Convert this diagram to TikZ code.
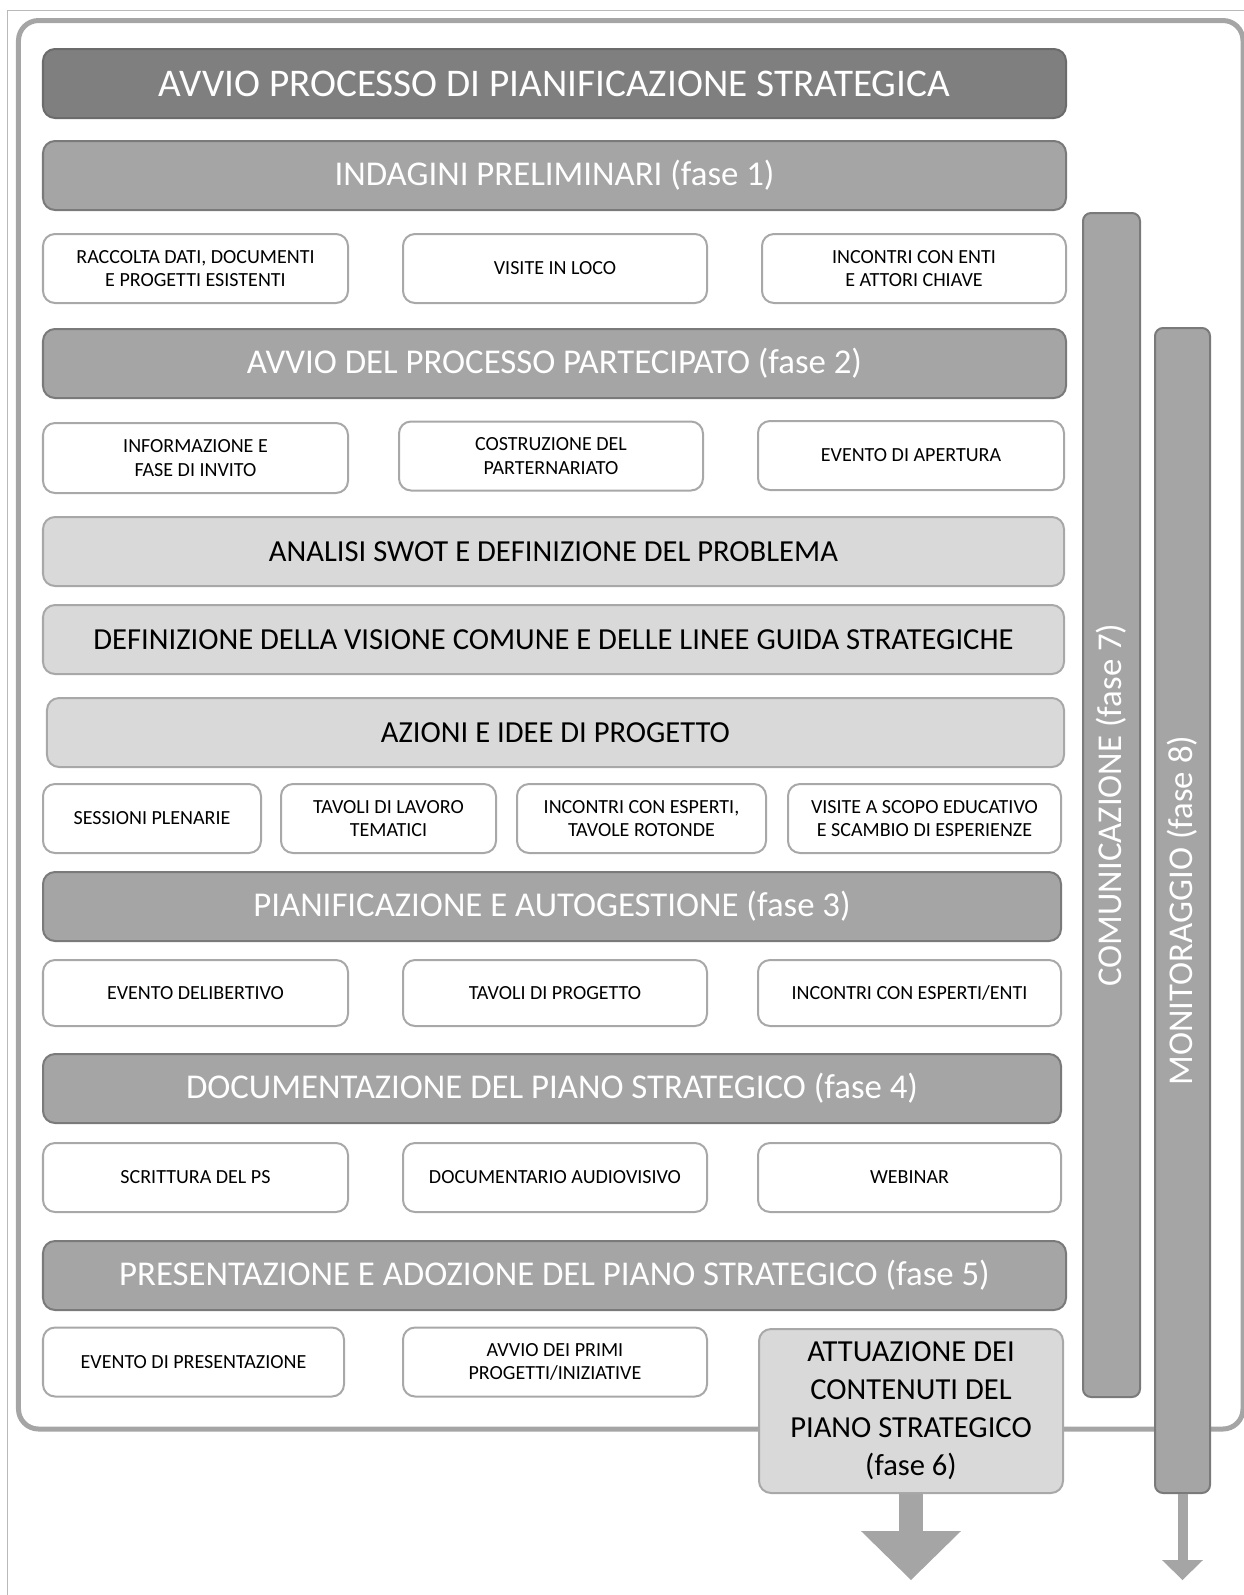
\documentclass[tikz,border=0pt]{standalone}
\usepackage{fontspec}
\setmainfont{Carlito}
\usetikzlibrary{arrows.meta}
\definecolor{darkbar}{HTML}{7F7F7F}
\definecolor{darkline}{HTML}{6B6B6B}
\definecolor{midbar}{HTML}{A5A5A5}
\definecolor{midline}{HTML}{7A7A7A}
\definecolor{lightbar}{HTML}{D9D9D9}
\definecolor{boxline}{HTML}{A8A8A8}
\newcommand\fsTitle{\fontsize{11.15}{13}\selectfont}
\newcommand\fsPhase{\fontsize{9.9}{12}\selectfont}
\newcommand\fsLight{\fontsize{8.7}{10.6}\selectfont}
\newcommand\fsSmall{\fontsize{5.7}{6.75}\selectfont}
\tikzset{
	bar/.style={rounded corners=.12cm, line width=.02cm, minimum height=.69cm, inner sep=0pt},
	topbar/.style={bar, fill=darkbar, draw=darkline, text=white, font=\fsTitle},
	phasebar/.style={bar, fill=midbar, draw=midline, text=white, font=\fsPhase},
	stepbar/.style={bar, fill=lightbar, draw=boxline, text=black, font=\fsLight},
	actbox/.style={bar, fill=white, draw=boxline, align=center, font=\fsSmall, minimum width=3.04cm},
	sidebar/.style={rounded corners=.08cm, fill=midbar, draw=midline, line width=.02cm, inner sep=0pt, rotate=90, text=white, font=\fsPhase},
	blockarrow/.style={midbar, line width=#1}
}
\begin{document}
\begin{tikzpicture}[thick]
	\useasboundingbox (0,0) rectangle (12.44,-15.95);
	% edge of the page and outer frame
	\draw[line width=.01cm, gray!55] (12.44,-.1)--(.07,-.1)--(.07,-15.95);
	\draw[line width=.05cm, midbar, rounded corners=.2cm] (.185,-.205) rectangle (12.43,-14.29);
	\node[topbar, minimum width=10.23cm] (start) at (5.545,-.835) {AVVIO PROCESSO DI PIANIFICAZIONE STRATEGICA};
	% fase 1
	\node[phasebar, minimum width=10.23cm] (f1) at (5.545,-1.755) {INDAGINI PRELIMINARI (fase 1)};
	\node[actbox, minimum width=3.05cm] (f1a) at (1.955,-2.685) {RACCOLTA DATI, DOCUMENTI\\E PROGETTI ESISTENTI};
	\node[actbox] (f1b) at (5.55,-2.685) {VISITE IN LOCO};
	\node[actbox] (f1c) at (9.14,-2.685) {INCONTRI CON ENTI\\E ATTORI CHIAVE};
	% fase 2
	\node[phasebar, minimum width=10.23cm] (f2) at (5.545,-3.635) {AVVIO DEL PROCESSO PARTECIPATO (fase 2)};
	\node[actbox, minimum width=3.05cm, minimum height=.7cm] (f2a) at (1.955,-4.58) {INFORMAZIONE E\\FASE DI INVITO};
	\node[actbox] (f2b) at (5.51,-4.56) {COSTRUZIONE DEL\\PARTERNARIATO};
	\node[actbox, minimum width=3.06cm] (f2c) at (9.11,-4.555) {EVENTO DI APERTURA};
	\node[stepbar, minimum width=10.21cm] (swot) at (5.535,-5.515) {ANALISI SWOT E DEFINIZIONE DEL PROBLEMA};
	\node[stepbar, minimum width=10.21cm] (vision) at (5.535,-6.395) {DEFINIZIONE DELLA VISIONE COMUNE E DELLE LINEE GUIDA STRATEGICHE};
	\node[stepbar, minimum width=10.17cm] (ideas) at (5.555,-7.325) {AZIONI E IDEE DI PROGETTO};
	\node[actbox, minimum width=2.18cm] (ida) at (1.52,-8.185) {SESSIONI PLENARIE};
	\node[actbox, minimum width=2.15cm] (idb) at (3.885,-8.185) {TAVOLI DI LAVORO\\TEMATICI};
	\node[actbox, minimum width=2.49cm] (idc) at (6.415,-8.185) {INCONTRI CON ESPERTI,\\TAVOLE ROTONDE};
	\node[actbox, minimum width=2.73cm] (idd) at (9.245,-8.185) {VISITE A SCOPO EDUCATIVO\\E SCAMBIO DI ESPERIENZE};
	% fase 3
	\node[phasebar, minimum width=10.18cm] (f3) at (5.52,-9.065) {PIANIFICAZIONE E AUTOGESTIONE (fase 3)};
	\node[actbox, minimum width=3.05cm, minimum height=.66cm] (f3a) at (1.955,-9.93) {EVENTO DELIBERTIVO};
	\node[actbox, minimum height=.66cm] (f3b) at (5.55,-9.93) {TAVOLI DI PROGETTO};
	\node[actbox, minimum width=3.03cm, minimum height=.66cm] (f3c) at (9.095,-9.93) {INCONTRI CON ESPERTI/ENTI};
	% fase 4
	\node[phasebar, minimum width=10.18cm] (f4) at (5.52,-10.885) {DOCUMENTAZIONE DEL PIANO STRATEGICO (fase 4)};
	\node[actbox, minimum width=3.05cm] (f4a) at (1.955,-11.775) {SCRITTURA DEL PS};
	\node[actbox] (f4b) at (5.55,-11.775) {DOCUMENTARIO AUDIOVISIVO};
	\node[actbox, minimum width=3.03cm] (f4c) at (9.095,-11.775) {WEBINAR};
	% fase 5 and 6
	\node[phasebar, minimum width=10.23cm] (f5) at (5.545,-12.755) {PRESENTAZIONE E ADOZIONE DEL PIANO STRATEGICO (fase 5)};
	\node[actbox, minimum width=3.01cm] (f5a) at (1.935,-13.62) {EVENTO DI PRESENTAZIONE};
	\node[actbox] (f5b) at (5.55,-13.62) {AVVIO DEI PRIMI\\PROGETTI/INIZIATIVE};
	\node[stepbar, align=center, minimum width=3.04cm, minimum height=1.64cm, font=\fontsize{8.7}{10.8}\selectfont] (f6) at (9.11,-14.11) {ATTUAZIONE DEI\\CONTENUTI DEL\\PIANO STRATEGICO\\(fase 6)};
	% fase 7 and 8 (rotated: west is the lower end)
	\node[sidebar, minimum width=11.84cm, minimum height=.57cm] (f7) at (11.115,-8.05) {COMUNICAZIONE (fase 7)};
	\node[sidebar, minimum width=11.65cm, minimum height=.55cm] (f8) at (11.825,-9.105) {MONITORAGGIO (fase 8)};
	\coordinate (f6end) at (9.11,-15.8);
	\coordinate (f8end) at (11.825,-15.8);
	\draw[blockarrow=.24cm, -{Triangle[width=1cm,length=.49cm,line width=0pt]}] (f6.south)--(f6end);
	\draw[blockarrow=.1cm, -{Triangle[width=.41cm,length=.2cm,line width=0pt]}] (f8.west)--(f8end);
\end{tikzpicture}
\end{document}
